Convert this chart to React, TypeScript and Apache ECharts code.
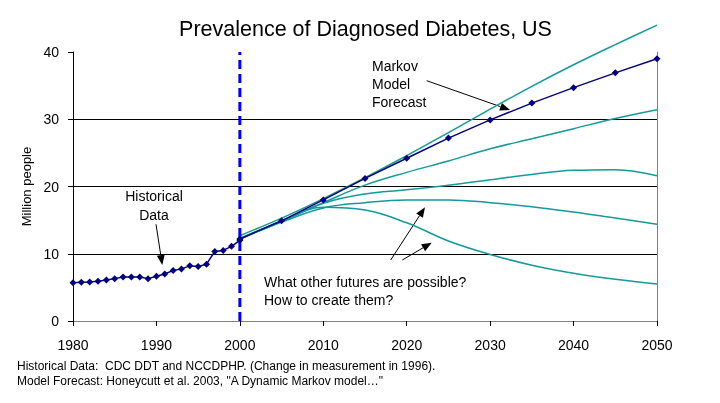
import React, { useEffect, useRef } from "react";
import * as echarts from "echarts";

const histYears = [1980, 1981, 1982, 1983, 1984, 1985, 1986, 1987, 1988, 1989, 1990, 1991, 1992, 1993, 1994, 1995, 1996, 1997, 1998, 1999, 2000];
const historical = [5.7, 5.75, 5.8, 5.9, 6.1, 6.3, 6.55, 6.55, 6.55, 6.3, 6.65, 7.0, 7.5, 7.75, 8.2, 8.1, 8.45, 10.35, 10.5, 11.1, 12.0];

const forecastYears = [2000, 2005, 2010, 2015, 2020, 2025, 2030, 2035, 2040, 2045, 2050];
const markov = [12.2, 14.9, 18.0, 21.2, 24.2, 27.2, 29.9, 32.4, 34.7, 36.9, 39.0];
const scenarioA = [12.7, 15.3, 18.2, 21.3, 24.6, 28.0, 31.5, 34.9, 38.1, 41.1, 44.0];
const scenarioB = [12.3, 14.9, 17.6, 20.2, 22.1, 23.8, 25.6, 27.1, 28.6, 30.1, 31.4];
const scenarioC = [12.2, 14.8, 17.5, 18.9, 19.5, 20.2, 21.0, 21.8, 22.4, 22.5, 21.6];
const scenarioD = [12.2, 14.7, 16.8, 17.6, 18.0, 18.0, 17.6, 17.0, 16.2, 15.3, 14.4];
const scenarioE = [12.2, 14.8, 16.9, 16.5, 14.6, 11.9, 9.9, 8.3, 7.1, 6.2, 5.5];

const xTicks = [1980, 1990, 2000, 2010, 2020, 2030, 2040, 2050];
const yTicks = [0, 10, 20, 30, 40];
const dividerYear = 2000;

const TEAL = "#139a9a";
const NAVY = "#000080";
const FONT = "'Liberation Sans', Arial, sans-serif";

function pairs(xs: number[], ys: number[]) {
  return xs.map((x, i) => [x, ys[i]]);
}

function arrow(x1: number, y1: number, x2: number, y2: number) {
  const dx = x2 - x1;
  const dy = y2 - y1;
  const len = Math.sqrt(dx * dx + dy * dy);
  const ux = dx / len;
  const uy = dy / len;
  const hl = 10;
  const hw = 4;
  const bx = x2 - ux * hl;
  const by = y2 - uy * hl;
  return [
    {
      type: "line",
      shape: { x1, y1, x2: bx, y2: by },
      style: { stroke: "#000", lineWidth: 1 },
    },
    {
      type: "polygon",
      shape: {
        points: [
          [x2, y2],
          [bx - uy * hw, by + ux * hw],
          [bx + uy * hw, by - ux * hw],
        ],
      },
      style: { fill: "#000" },
    },
  ];
}

export default function App() {
  const ref = useRef<HTMLDivElement>(null);
  useEffect(() => {
    if (!ref.current) return;
    const chart = echarts.init(ref.current, null, { renderer: "svg" });
    const tealSeries = [scenarioA, scenarioB, scenarioC, scenarioD, scenarioE].map((s, i) => ({
      type: "line",
      name: "scenario" + i,
      data: pairs(forecastYears, s),
      smooth: 0.4,
      symbol: "none",
      clip: false,
      lineStyle: { color: TEAL, width: 1.5 },
      z: 2,
    }));
    chart.setOption({
      animation: false,
      textStyle: { fontFamily: FONT },
      grid: { left: 73, right: 63, top: 52, bottom: 82 },
      xAxis: [
        {
          type: "value",
          min: 1980,
          max: 2050,
          interval: 10,
          axisLine: { lineStyle: { color: "#000", width: 1 } },
          axisTick: { show: true, length: 5, inside: false, lineStyle: { color: "#000" } },
          axisLabel: {
            color: "#000",
            fontSize: 14,
            fontFamily: FONT,
            margin: 17,
            formatter: (v: number) => (xTicks.includes(v) ? String(v) : ""),
          },
          splitLine: { show: false },
        },
        {
          type: "value",
          position: "top",
          min: 1980,
          max: 2050,
          interval: 10,
          axisLine: { show: true, lineStyle: { color: "#808080", width: 1 } },
          axisTick: { show: false },
          axisLabel: { show: false },
          splitLine: { show: false },
        },
      ],
      yAxis: [
        {
          type: "value",
          min: 0,
          max: 40,
          interval: 10,
          name: "Million people",
          nameLocation: "middle",
          nameGap: 38,
          nameRotate: 90,
          nameTextStyle: { fontSize: 13, color: "#000", fontFamily: FONT },
          axisLine: { show: true, lineStyle: { color: "#000", width: 1 } },
          axisTick: { show: true, length: 5, inside: false, lineStyle: { color: "#000" } },
          axisLabel: {
            color: "#000",
            fontSize: 14,
            fontFamily: FONT,
            margin: 14,
            formatter: (v: number) => (yTicks.includes(v) ? String(v) : ""),
          },
          splitLine: { show: true, showMinLine: false, showMaxLine: false, lineStyle: { color: "#000", width: 1 } },
        },
        {
          type: "value",
          position: "right",
          min: 0,
          max: 40,
          interval: 10,
          axisLine: { show: true, lineStyle: { color: "#808080", width: 1 } },
          axisTick: { show: false },
          axisLabel: { show: false },
          splitLine: { show: false },
        },
      ],
      series: [
        ...tealSeries,
        {
          type: "line",
          name: "divider",
          data: [
            [dividerYear, 0],
            [dividerYear, 40],
          ],
          symbol: "none",
          lineStyle: { color: "#0000ff", width: 3, type: [9, 5] },
          z: 3,
        },
        {
          type: "line",
          name: "historical",
          data: pairs(histYears, historical),
          symbol: "diamond",
          symbolSize: 7,
          itemStyle: { color: NAVY },
          lineStyle: { color: NAVY, width: 1.5 },
          z: 4,
        },
        {
          type: "line",
          name: "markov",
          data: pairs(forecastYears, markov),
          symbol: "diamond",
          symbolSize: 7,
          itemStyle: { color: NAVY },
          lineStyle: { color: NAVY, width: 1.5 },
          z: 4,
        },
      ],
      graphic: [
        {
          type: "text",
          x: 365.5,
          y: 29,
          style: {
            text: "Prevalence of Diagnosed Diabetes, US",
            font: "21.5px " + FONT,
            fill: "#000",
            align: "center",
            verticalAlign: "middle",
          },
        },
        {
          type: "text",
          left: 372,
          top: 57,
          style: { text: "Markov\nModel\nForecast", font: "14px " + FONT, fill: "#000", lineHeight: 18 },
        },
        {
          type: "text",
          x: 154,
          y: 186,
          style: { text: "Historical\nData", font: "14px " + FONT, fill: "#000", lineHeight: 19.5, align: "center" },
        },
        {
          type: "text",
          left: 264,
          top: 273,
          style: {
            text: "What other futures are possible?\nHow to create them?",
            font: "14px " + FONT,
            fill: "#000",
            lineHeight: 18,
          },
        },
        {
          type: "text",
          left: 17,
          top: 358,
          style: {
            text:
              "Historical Data:  CDC DDT and NCCDPHP. (Change in measurement in 1996).\nModel Forecast: Honeycutt et al. 2003, \"A Dynamic Markov model\u2026\"",
            font: "12px " + FONT,
            fill: "#000",
            lineHeight: 15.5,
          },
        },
        ...arrow(426.7, 80.7, 510, 110),
        ...arrow(156, 224.3, 162.3, 265),
        ...arrow(390.7, 260, 425, 207.3),
        ...arrow(402.3, 260, 431.7, 242.7),
      ],
    });
    return () => chart.dispose();
  }, []);
  return <div ref={ref} style={{ position: "fixed", left: 0, top: 0, width: 720, height: 403 }} />;
}
